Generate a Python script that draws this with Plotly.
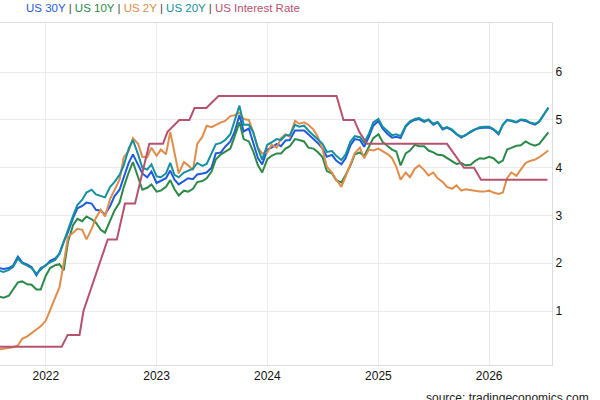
import pandas as pd
import plotly.graph_objects as go

# semi-monthly observation dates (1st and 15th), Aug 2021 - Jul 2026
dates = pd.date_range("2021-08-01", periods=120, freq="SMS")

us30y = [1.90, 1.88, 1.90, 1.95, 2.14, 2.02, 1.97, 1.92, 1.75, 1.90,
         1.95, 2.05, 2.10, 2.20, 2.45, 2.65, 2.95, 3.15, 3.20, 3.27,
         3.25, 3.12, 3.10, 3.02, 3.20, 3.40, 3.54, 3.82, 4.10, 4.28,
         4.05, 3.88, 3.80, 3.92, 3.68, 3.72, 3.78, 3.94, 3.75, 3.65,
         3.72, 3.78, 3.76, 3.86, 3.88, 3.90, 4.00, 4.30, 4.32, 4.44,
         4.55, 4.75, 5.10, 4.76, 4.82, 4.55, 4.20, 4.07, 4.38, 4.42,
         4.50, 4.45, 4.57, 4.58, 4.78, 4.78, 4.78, 4.70, 4.60, 4.52,
         4.40, 4.23, 4.27, 4.15, 4.07, 4.20, 4.47, 4.60, 4.58, 4.44,
         4.65, 4.88, 4.98, 4.82, 4.70, 4.63, 4.65, 4.62, 4.86, 4.95,
         5.00, 5.02, 4.96, 5.00, 4.90, 4.95, 4.80, 4.84, 4.78, 4.70,
         4.63, 4.68, 4.74, 4.80, 4.83, 4.84, 4.84, 4.80, 4.70, 4.90,
         5.00, 4.98, 4.95, 5.00, 4.98, 4.94, 4.90, 4.96, 5.12, 5.26]

us10y = [1.30, 1.28, 1.32, 1.45, 1.60, 1.62, 1.56, 1.55, 1.45, 1.45,
         1.74, 1.90, 1.96, 1.98, 1.85, 2.45, 2.80, 2.93, 2.88, 2.98,
         2.92, 2.85, 2.70, 2.64, 2.90, 3.10, 3.27, 3.60, 3.90, 4.12,
         3.80, 3.54, 3.58, 3.65, 3.50, 3.52, 3.60, 3.74, 3.55, 3.42,
         3.52, 3.50, 3.56, 3.70, 3.72, 3.78, 3.92, 4.17, 4.28, 4.33,
         4.40, 4.65, 4.95, 4.60, 4.55, 4.35, 4.05, 3.90, 4.18, 4.25,
         4.30, 4.30, 4.40, 4.45, 4.60, 4.58, 4.55, 4.42, 4.40, 4.33,
         4.22, 3.93, 3.88, 3.74, 3.69, 3.85, 4.05, 4.28, 4.32, 4.24,
         4.45, 4.62, 4.70, 4.54, 4.45, 4.38, 4.34, 4.05, 4.30, 4.36,
         4.48, 4.45, 4.45, 4.36, 4.32, 4.27, 4.26, 4.20, 4.14, 4.08,
         4.10, 4.05, 4.06, 4.14, 4.20, 4.19, 4.23, 4.20, 4.10, 4.15,
         4.38, 4.42, 4.46, 4.47, 4.55, 4.50, 4.46, 4.50, 4.62, 4.74]

us2y = [0.20, 0.21, 0.22, 0.24, 0.28, 0.42, 0.47, 0.54, 0.62, 0.68,
        0.80, 1.02, 1.28, 1.50, 2.00, 2.55, 2.64, 2.72, 2.70, 2.50,
        2.72, 2.95, 3.12, 2.98, 3.35, 3.52, 3.75, 4.22, 4.35, 4.62,
        4.50, 4.23, 4.22, 4.42, 4.25, 4.38, 4.28, 4.75, 4.30, 3.88,
        4.12, 4.05, 3.95, 4.50, 4.65, 4.88, 4.85, 4.90, 4.95, 4.98,
        5.08, 5.10, 5.15, 5.02, 5.00, 4.75, 4.42, 4.30, 4.32, 4.48,
        4.42, 4.62, 4.70, 4.65, 4.98, 4.92, 4.95, 4.90, 4.80, 4.65,
        4.38, 4.02, 3.90, 3.75, 3.60, 3.82, 4.08, 4.30, 4.42, 4.20,
        4.38, 4.36, 4.40, 4.34, 4.28, 4.20, 4.02, 3.75, 3.90, 3.80,
        3.98, 4.05, 3.95, 3.84, 3.90, 3.78, 3.70, 3.60, 3.56, 3.63,
        3.52, 3.55, 3.53, 3.51, 3.50, 3.50, 3.52, 3.48, 3.45, 3.48,
        3.78, 3.90, 3.83, 3.96, 4.10, 4.14, 4.17, 4.22, 4.30, 4.36]

us20y = [1.84, 1.82, 1.86, 1.92, 2.10, 2.00, 1.95, 1.90, 1.78, 1.86,
         1.97, 2.02, 2.07, 2.20, 2.45, 2.72, 3.00, 3.22, 3.33, 3.48,
         3.54, 3.44, 3.40, 3.38, 3.60, 3.70, 3.85, 4.05, 4.40, 4.58,
         4.28, 4.00, 3.96, 4.07, 3.82, 3.80, 3.88, 4.10, 3.85, 3.80,
         3.90, 3.94, 3.98, 4.10, 4.04, 4.08, 4.30, 4.49, 4.52, 4.58,
         4.70, 5.00, 5.30, 4.90, 4.90, 4.75, 4.40, 4.17, 4.48, 4.53,
         4.60, 4.58, 4.68, 4.68, 4.90, 4.86, 4.88, 4.78, 4.68, 4.60,
         4.50, 4.33, 4.35, 4.25, 4.16, 4.28, 4.55, 4.66, 4.64, 4.52,
         4.72, 4.95, 5.02, 4.86, 4.75, 4.68, 4.70, 4.66, 4.88, 4.97,
         5.02, 5.04, 4.98, 5.01, 4.92, 4.96, 4.82, 4.85, 4.80, 4.71,
         4.65, 4.68, 4.76, 4.81, 4.85, 4.86, 4.86, 4.81, 4.72, 4.90,
         5.00, 4.99, 4.96, 5.01, 5.00, 4.95, 4.92, 4.97, 5.12, 5.25]

# policy rate only changes at decision dates
rate_dates = ["2021-08-01", "2022-02-22", "2022-03-14", "2022-04-22", "2022-05-05",
              "2022-07-24", "2022-08-23", "2022-09-19", "2022-10-22", "2022-12-08",
              "2023-01-22", "2023-02-06", "2023-03-17", "2023-04-19", "2023-05-06",
              "2023-06-14", "2023-07-24", "2024-08-16", "2024-09-08", "2024-10-13",
              "2024-10-30", "2024-11-24", "2025-08-15", "2025-10-10", "2025-11-12",
              "2025-12-05", "2026-07-12"]
rate_vals = [0.25, 0.25, 0.50, 0.50, 1.00,
             2.50, 2.50, 3.25, 3.25, 4.50,
             4.50, 4.75, 5.00, 5.00, 5.25,
             5.25, 5.50, 5.50, 5.00, 5.00,
             4.75, 4.50, 4.50, 4.00, 4.00,
             3.75, 3.75]

year_ticks = ["2022-01-01", "2023-01-01", "2024-01-01", "2025-01-01", "2026-01-01"]
year_labels = ["2022", "2023", "2024", "2025", "2026"]
y_ticks = [1, 2, 3, 4, 5, 6]

c30 = "#1f5bdc"
c10 = "#2b8a48"
c2 = "#e08c4b"
c20 = "#14909e"
crate = "#b5536f"

fig = go.Figure()
fig.add_trace(go.Scatter(x=dates, y=us30y, mode="lines", line=dict(color=c30, width=2), name="US 30Y"))
fig.add_trace(go.Scatter(x=dates, y=us10y, mode="lines", line=dict(color=c10, width=2), name="US 10Y"))
fig.add_trace(go.Scatter(x=dates, y=us2y, mode="lines", line=dict(color=c2, width=2), name="US 2Y"))
fig.add_trace(go.Scatter(x=dates, y=us20y, mode="lines", line=dict(color=c20, width=2), name="US 20Y"))
fig.add_trace(go.Scatter(x=rate_dates, y=rate_vals, mode="lines", line=dict(color=crate, width=2), name="US Interest Rate"))

sep = '<span style="color:#444"> | </span>'
legend_text = sep.join([
    f'<span style="color:{c30}">US 30Y</span>',
    f'<span style="color:{c10}">US 10Y</span>',
    f'<span style="color:{c2}">US 2Y</span>',
    f'<span style="color:{c20}">US 20Y</span>',
    f'<span style="color:{crate}">US Interest Rate</span>',
])

fig.update_layout(
    width=600, height=400,
    margin=dict(l=0, r=48, t=23, b=35),
    plot_bgcolor="white", paper_bgcolor="white",
    showlegend=False,
    font=dict(family="Arial, Liberation Sans, sans-serif", size=12, color="#111"),
    xaxis=dict(type="date", range=["2021-08-03", "2026-07-27"],
               tickvals=year_ticks, ticktext=year_labels,
               showgrid=True, gridcolor="#ebebeb", gridwidth=1,
               showline=True, linecolor="#dddddd", mirror=True,
               ticks="", zeroline=False),
    yaxis=dict(side="right", range=[-0.13, 7.03], tickvals=y_ticks,
               showgrid=True, gridcolor="#ebebeb", gridwidth=1,
               showline=True, linecolor="#dddddd", mirror=True,
               ticks="", zeroline=False),
    annotations=[
        dict(text=legend_text, xref="paper", yref="paper", x=0.044, y=1.044,
             xanchor="left", yanchor="middle", showarrow=False,
             font=dict(size=11.5)),
        dict(text="source: tradingeconomics.com", xref="paper", yref="paper",
             x=1.07, y=-0.07, xanchor="right", yanchor="top", showarrow=False,
             font=dict(size=12, color="#222")),
    ],
)

# the page's default 8px body margin would push the chart off its frame
fig.write_html("out.html", config={"displayModeBar": False},
               post_script="document.body.style.margin='0px';")
